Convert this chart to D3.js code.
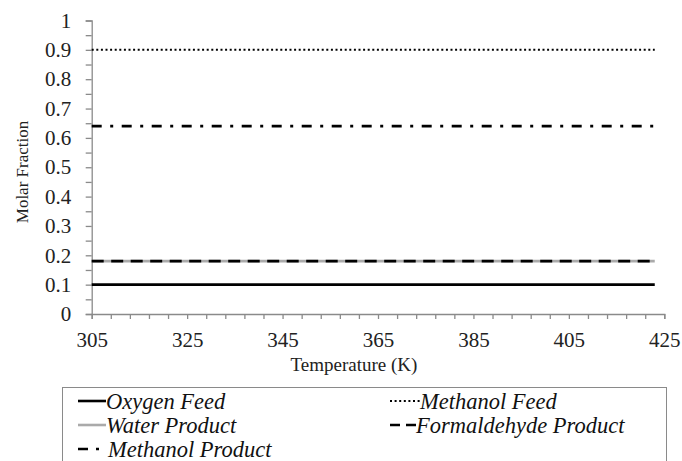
<!DOCTYPE html>
<html>
<head>
<meta charset="utf-8">
<script src="https://cdn.jsdelivr.net/npm/d3@7"></script>
<style>
  body { margin: 0; background: #fff; }
  svg { display: block; }
  text { font-family: "Liberation Serif", "Tinos", "Times New Roman", Times, "DejaVu Serif", serif; }
</style>
</head>
<body>
<svg id="chart" width="682" height="461"></svg>
<script>
// data
const temperature = [305, 325, 345, 365, 385, 405, 423]
const oxygenFeed = [0.1, 0.1, 0.1, 0.1, 0.1, 0.1, 0.1]
const methanolFeed = [0.9, 0.9, 0.9, 0.9, 0.9, 0.9, 0.9]
const waterProduct = [0.18, 0.18, 0.18, 0.18, 0.18, 0.18, 0.18]
const formaldehydeProduct = [0.18, 0.18, 0.18, 0.18, 0.18, 0.18, 0.18]
const methanolProduct = [0.64, 0.64, 0.64, 0.64, 0.64, 0.64, 0.64]

const xTicks = d3.range(305, 426, 4)
const yTicks = d3.range(0, 21).map(i => i / 20)

const series = [
    {name: "Water Product", values: waterProduct, color: "#aaaaaa", dash: null, width: 2.6},
    {name: "Formaldehyde Product", values: formaldehydeProduct, color: "#000", dash: "12,7.5", width: 2.6},
    {name: "Oxygen Feed", values: oxygenFeed, color: "#000", dash: null, width: 2.6},
    {name: "Methanol Feed", values: methanolFeed, color: "#000", dash: "2,2.6", width: 2},
    {name: "Methanol Product", values: methanolProduct, color: "#000", dash: "10,8.5,3,8.5", width: 2.6}
]

const svg = d3.select("#chart")
const axisColor = "#8a8a8a"

const x = d3.scaleLinear().domain([305, 425]).range([91.7, 664.3])
const y = d3.scaleLinear().domain([0, 1]).range([314, 20.5])

// x axis
const gx = svg.append("g")
    .attr("transform", `translate(0,${y(0)})`)
    .call(d3.axisBottom(x)
        .tickValues(xTicks)
        .tickSize(5)
        .tickPadding(13)
        .tickFormat(d => (d - 305) % 20 === 0 ? d : ""))
gx.attr("font-family", null)
gx.select(".domain").attr("stroke", axisColor).attr("stroke-width", 1.3)
gx.selectAll(".tick line").attr("stroke", axisColor).attr("stroke-width", 1.3)
gx.selectAll(".tick text")
    .attr("fill", "#222")
    .attr("font-size", "21px")

// y axis
const gy = svg.append("g")
    .attr("transform", `translate(${x(305)},0)`)
    .call(d3.axisLeft(y)
        .tickValues(yTicks)
        .tickSize(6)
        .tickPadding(14.5)
        .tickFormat(d => Math.round(d * 20) % 2 === 0 ? d3.format("~g")(d) : ""))
gy.attr("font-family", null)
gy.select(".domain").attr("stroke", axisColor).attr("stroke-width", 1.3)
gy.selectAll(".tick line").attr("stroke", axisColor).attr("stroke-width", 1.3)
gy.selectAll(".tick text")
    .attr("fill", "#222")
    .attr("font-size", "21px")

// axis titles
svg.append("text")
    .attr("x", 354)
    .attr("y", 371)
    .attr("text-anchor", "middle")
    .attr("font-size", "19px")
    .attr("fill", "#222")
    .text("Temperature (K)")

svg.append("text")
    .attr("transform", "translate(28,172) rotate(-90)")
    .attr("text-anchor", "middle")
    .attr("font-size", "17px")
    .attr("fill", "#222")
    .text("Molar Fraction")

// lines
const line = d3.line()
    .x((d, i) => x(temperature[i]))
    .y(d => y(d))

svg.selectAll(".series")
    .data(series)
    .join("path")
    .attr("class", "series")
    .attr("d", d => line(d.values))
    .attr("fill", "none")
    .attr("stroke", d => d.color)
    .attr("stroke-width", d => d.width)
    .attr("stroke-dasharray", d => d.dash)

// legend
svg.append("rect")
    .attr("x", 62.5)
    .attr("y", 387.5)
    .attr("width", 604)
    .attr("height", 90)
    .attr("fill", "none")
    .attr("stroke", axisColor)
    .attr("stroke-width", 1)

const legendItems = [
    {s: series[2], row: 0, x0: 78, x1: 106, tx: 106, dash: null},
    {s: series[3], row: 0, x0: 390, x1: 420, tx: 420, dash: "2,2.6"},
    {s: series[0], row: 1, x0: 78, x1: 106, tx: 106, dash: null},
    {s: series[1], row: 1, x0: 390, x1: 416, tx: 416, dash: "10,6"},
    {s: series[4], row: 2, x0: 78, x1: 100, tx: 108, dash: "10,8,3,20"}
]

const lg = svg.append("g")
lg.selectAll("line")
    .data(legendItems)
    .join("line")
    .attr("x1", d => d.x0)
    .attr("x2", d => d.x1)
    .attr("y1", d => 401 + d.row * 24)
    .attr("y2", d => 401 + d.row * 24)
    .attr("stroke", d => d.s.color)
    .attr("stroke-width", d => d.s.width)
    .attr("stroke-dasharray", d => d.dash)

lg.selectAll("text")
    .data(legendItems)
    .join("text")
    .attr("x", d => d.tx)
    .attr("y", d => 408.5 + d.row * 24)
    .attr("font-size", "22.5px")
    .attr("font-style", "italic")
    .attr("fill", "#111")
    .text(d => d.s.name)
</script>
</body>
</html>
